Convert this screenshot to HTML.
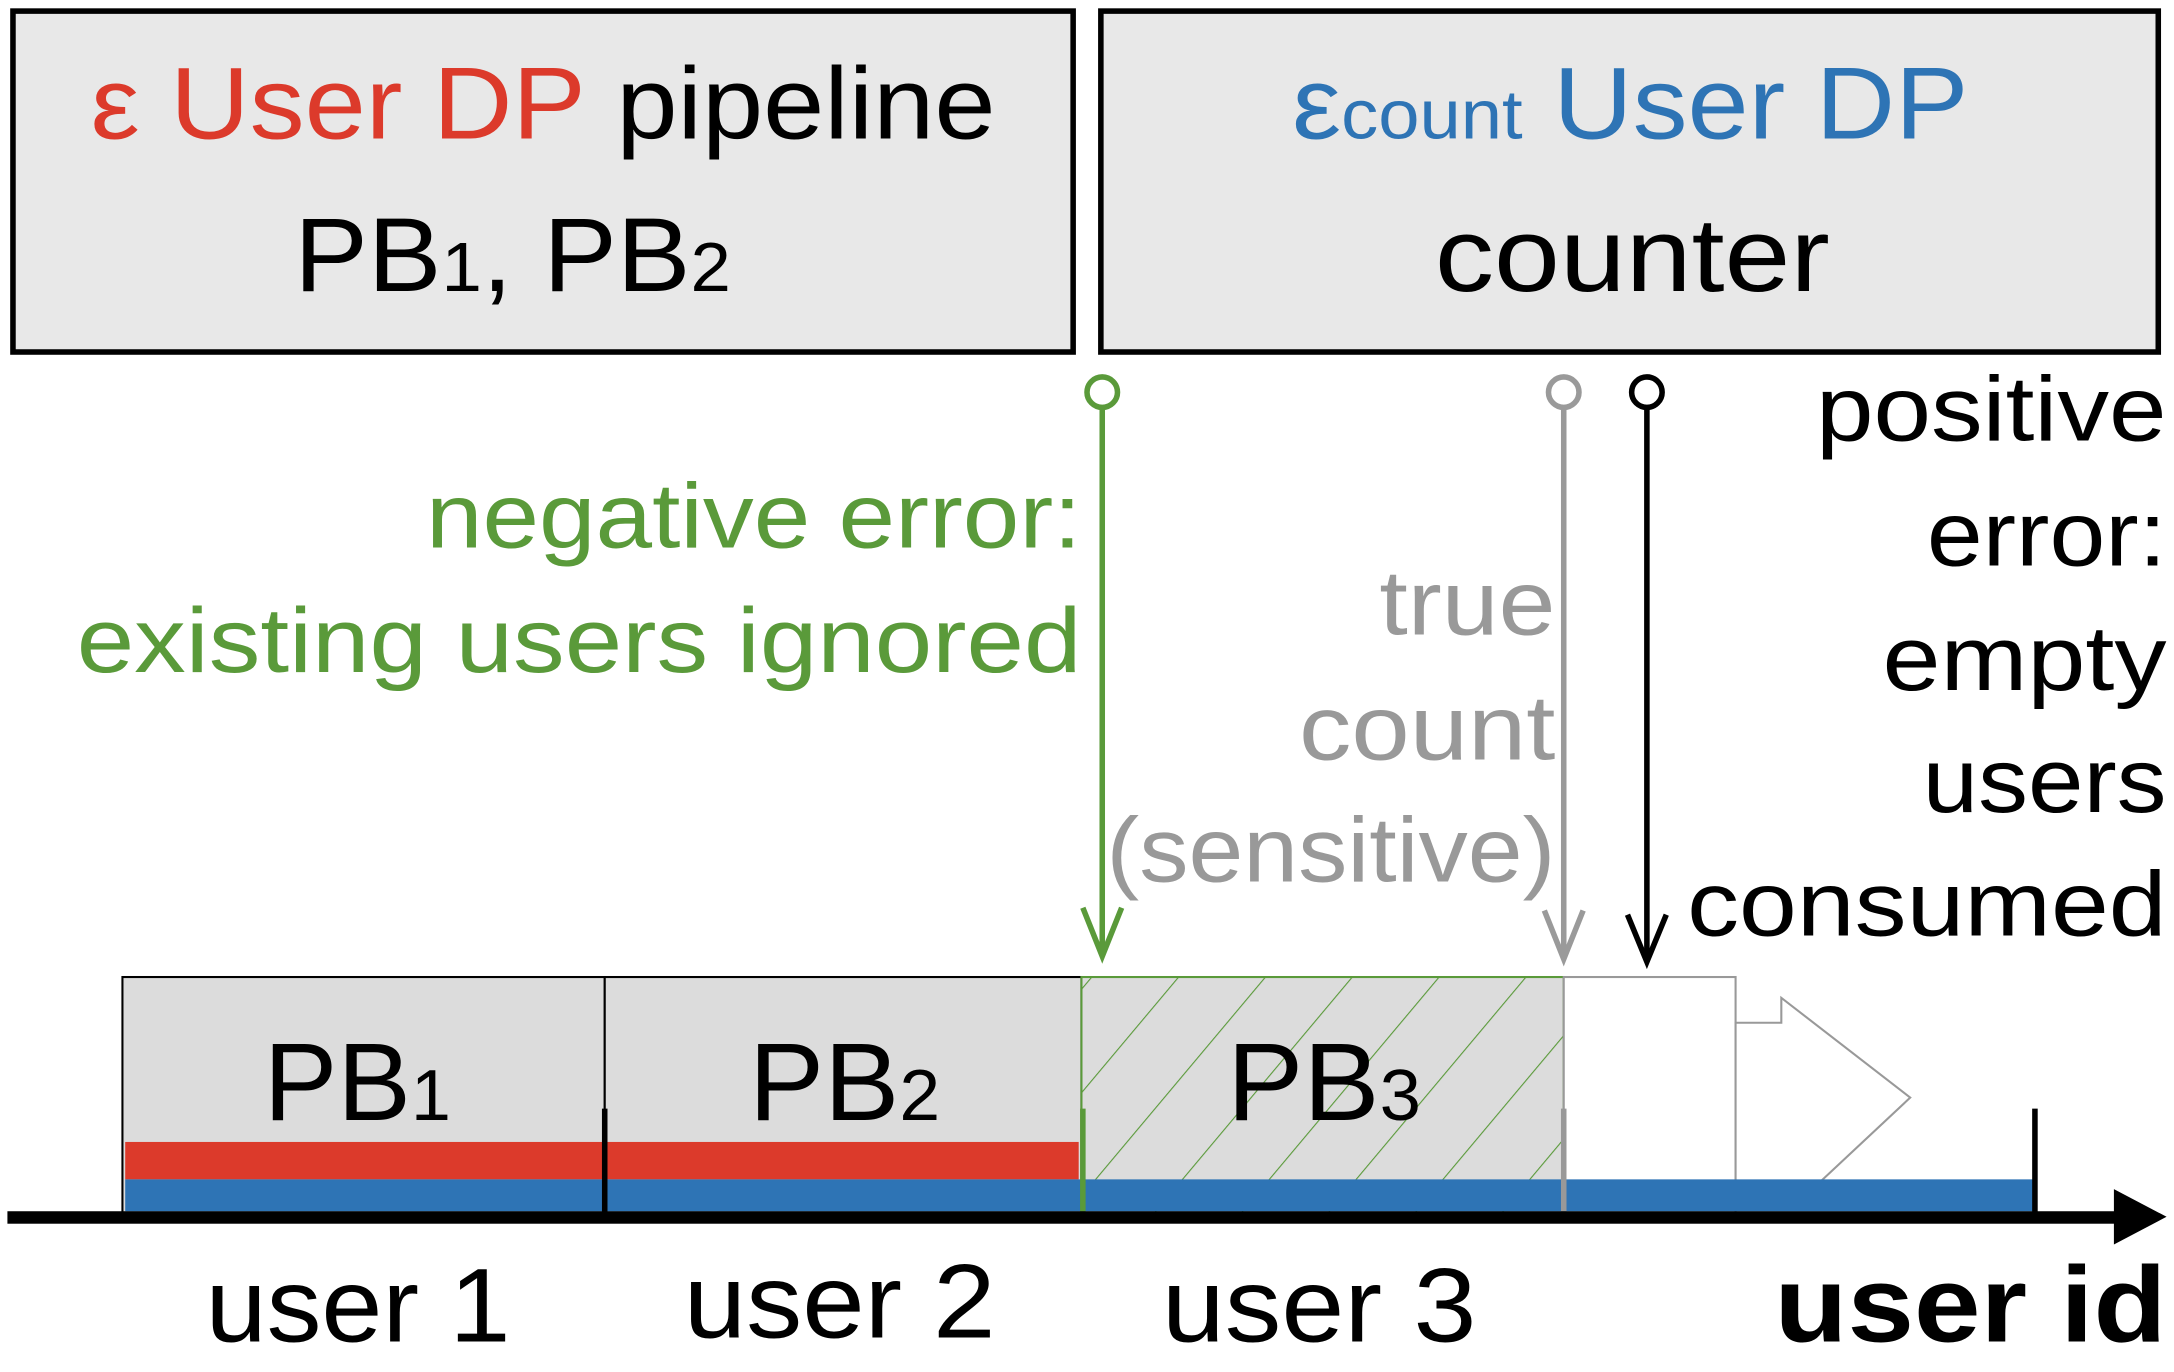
<!DOCTYPE html>
<html><head><style>html,body{margin:0;padding:0;background:#fff}svg{display:block}</style></head>
<body>
<svg width="2174" height="1372" viewBox="0 0 1568 990" xmlns="http://www.w3.org/2000/svg" font-family="Liberation Sans, sans-serif">
<defs>
<pattern id="h" patternUnits="userSpaceOnUse" width="48" height="48" patternTransform="rotate(40)">
<rect width="48" height="48" fill="#dcdcdc"/><line x1="0" y1="0" x2="0" y2="48" stroke="#5a9a3a" stroke-width="1.6"/>
</pattern>
</defs>
<rect x="9" y="8" width="765" height="246" fill="#e8e8e8" stroke="#000" stroke-width="4"/>
<rect x="794" y="8" width="763" height="246" fill="#e8e8e8" stroke="#000" stroke-width="4"/>
<text x="65" y="100" font-size="74" textLength="653" lengthAdjust="spacingAndGlyphs"><tspan fill="#dc3a2b">ε User DP</tspan> pipeline</text>
<text x="212" y="210" font-size="76" textLength="315" lengthAdjust="spacingAndGlyphs">PB<tspan font-size="50">1</tspan>, PB<tspan font-size="50">2</tspan></text>
<text x="932" y="100" font-size="74" fill="#2e74b5" textLength="488" lengthAdjust="spacingAndGlyphs">ε<tspan font-size="50">count</tspan> User DP</text>
<text x="1035" y="210" font-size="76" textLength="285" lengthAdjust="spacingAndGlyphs">counter</text>

<g fill="none" stroke-width="4">
<circle cx="795" cy="283" r="11" stroke="#5a9a3a" fill="#fff"/>
<line x1="795" y1="294" x2="795" y2="688" stroke="#5a9a3a"/>
<polyline points="781,655 795,690 809,655" stroke="#5a9a3a"/>
<circle cx="1128" cy="283" r="11" stroke="#9a9a9a" fill="#fff"/>
<line x1="1128" y1="294" x2="1128" y2="690" stroke="#9a9a9a"/>
<polyline points="1114,657 1128,692 1142,657" stroke="#9a9a9a"/>
<circle cx="1188" cy="283" r="11" stroke="#000" fill="#fff"/>
<line x1="1188" y1="294" x2="1188" y2="692" stroke="#000"/>
<polyline points="1174,660 1188,694 1202,660" stroke="#000"/>
</g>
<g font-size="66" text-anchor="end" lengthAdjust="spacingAndGlyphs">
<text x="780" y="395" fill="#5a9a3a" textLength="473" lengthAdjust="spacingAndGlyphs">negative error:</text>
<text x="780" y="485" fill="#5a9a3a" textLength="725" lengthAdjust="spacingAndGlyphs">existing users ignored</text>
<text x="1122" y="458" fill="#999" textLength="127" lengthAdjust="spacingAndGlyphs">true</text>
<text x="1122" y="548" fill="#999" textLength="185" lengthAdjust="spacingAndGlyphs">count</text>
<text x="1122" y="636" fill="#999" textLength="324" lengthAdjust="spacingAndGlyphs">(sensitive)</text>
<text x="1563" y="318" textLength="253" lengthAdjust="spacingAndGlyphs">positive</text>
<text x="1563" y="408" textLength="173" lengthAdjust="spacingAndGlyphs">error:</text>
<text x="1563" y="498" textLength="205" lengthAdjust="spacingAndGlyphs">empty</text>
<text x="1563" y="586" textLength="176" lengthAdjust="spacingAndGlyphs">users</text>
<text x="1563" y="675" textLength="346" lengthAdjust="spacingAndGlyphs">consumed</text>
</g>

<rect x="88" y="705" width="348" height="170" fill="#dcdcdc" stroke="#000" stroke-width="1.5"/>
<rect x="436" y="705" width="344" height="170" fill="#dcdcdc" stroke="#000" stroke-width="1.5"/>
<rect x="780" y="705" width="348" height="170" fill="url(#h)" stroke="#5a9a3a" stroke-width="1.5"/>
<rect x="1128" y="705" width="124" height="170" fill="#fff" stroke="#999" stroke-width="1.5"/>
<polygon points="1252,738 1285,738 1285,720 1378,792 1300,865 1252,865" fill="#fff" stroke="#999" stroke-width="1.5"/>
<rect x="90" y="824" width="688" height="27" fill="#dc3a2b"/>
<rect x="90" y="851" width="1378" height="23" fill="#2e74b5"/>
<text x="190" y="808" font-size="80" textLength="135" lengthAdjust="spacingAndGlyphs">PB<tspan font-size="52">1</tspan></text>
<text x="540" y="808" font-size="80" textLength="138" lengthAdjust="spacingAndGlyphs">PB<tspan font-size="52">2</tspan></text>
<text x="885" y="808" font-size="80" textLength="140" lengthAdjust="spacingAndGlyphs">PB<tspan font-size="52">3</tspan></text>

<line x1="436" y1="800" x2="436" y2="875" stroke="#000" stroke-width="4"/>
<line x1="781" y1="800" x2="781" y2="875" stroke="#5a9a3a" stroke-width="4"/>
<line x1="1128" y1="800" x2="1128" y2="875" stroke="#999" stroke-width="4"/>
<line x1="1468" y1="800" x2="1468" y2="875" stroke="#000" stroke-width="4"/>
<rect x="5" y="874" width="1530" height="9" fill="#000"/>
<polygon points="1525,858 1563,878 1525,898" fill="#000"/>

<g font-size="76">
<text x="148" y="968" textLength="220" lengthAdjust="spacingAndGlyphs">user 1</text>
<text x="493" y="965" textLength="225" lengthAdjust="spacingAndGlyphs">user 2</text>
<text x="838" y="968" textLength="227" lengthAdjust="spacingAndGlyphs">user 3</text>
</g>
<text x="1280" y="968" font-size="78" font-weight="bold" textLength="283" lengthAdjust="spacingAndGlyphs">user id</text>
</svg>
</body></html>
